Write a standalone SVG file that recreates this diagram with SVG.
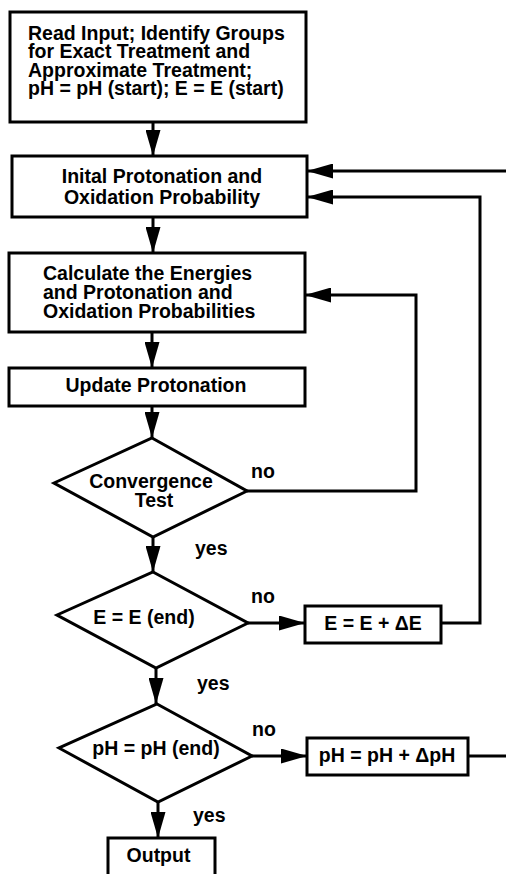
<svg xmlns="http://www.w3.org/2000/svg" width="506" height="874" viewBox="0 0 506 874">
<style>
.box{fill:#fff;stroke:#000;stroke-width:3}
.t{font-family:"Liberation Sans",Arial,sans-serif;font-weight:bold;font-size:19.5px;fill:#000}
.c{text-anchor:middle}
.ln{fill:none;stroke:#000;stroke-width:3}
</style>
<defs>
<marker id="ah" markerUnits="userSpaceOnUse" markerWidth="27" markerHeight="15" refX="26" refY="7.5" orient="auto">
<path d="M0,0 L26,7.5 L0,15 z" fill="#000"/>
</marker>
</defs>
<rect width="506" height="874" fill="#fff"/>
<g id="connectors">
<path class="ln" d="M153,122 V156" marker-end="url(#ah)"/>
<path class="ln" d="M153,217 V253" marker-end="url(#ah)"/>
<path class="ln" d="M152,332 V368" marker-end="url(#ah)"/>
<path class="ln" d="M152,406 V438" marker-end="url(#ah)"/>
<path class="ln" d="M153,537 V572" marker-end="url(#ah)"/>
<path class="ln" d="M156,668 V704" marker-end="url(#ah)"/>
<path class="ln" d="M158,802 V838" marker-end="url(#ah)"/>
<path class="ln" d="M506,171 H307" marker-end="url(#ah)"/>
<path class="ln" d="M441,623 H480 V197 H307" marker-end="url(#ah)"/>
<path class="ln" d="M247,491 H416 V295 H305" marker-end="url(#ah)"/>
<path class="ln" d="M248,623 H305" marker-end="url(#ah)"/>
<path class="ln" d="M252,756 H307" marker-end="url(#ah)"/>
<path class="ln" d="M468,756 H506"/>
<text class="t" x="251" y="478">no</text>
<text class="t" x="195" y="555">yes</text>
<text class="t" x="251" y="603">no</text>
<text class="t" x="197" y="690">yes</text>
<text class="t" x="252" y="736">no</text>
<text class="t" x="193" y="822">yes</text>
</g>
<g id="read-input">
<rect class="box" x="10" y="12" width="296" height="110"/>
<text class="t" x="28" y="40">Read Input; Identify Groups</text>
<text class="t" x="28" y="58.3">for Exact Treatment and</text>
<text class="t" x="28" y="76.7">Approximate Treatment;</text>
<text class="t" x="28" y="95">pH = pH (start); E = E (start)</text>
</g>
<g id="initial">
<rect class="box" x="12" y="156" width="295" height="61"/>
<text class="t c" x="162" y="183.3">Inital Protonation and</text>
<text class="t c" x="162" y="204">Oxidation Probability</text>
</g>
<g id="calculate">
<rect class="box" x="9" y="253" width="296" height="79"/>
<text class="t" x="43" y="280">Calculate the Energies</text>
<text class="t" x="43" y="298.5">and Protonation and</text>
<text class="t" x="43" y="317.5">Oxidation Probabilities</text>
</g>
<g id="update">
<rect class="box" x="9" y="368" width="296" height="38"/>
<text class="t c" x="156" y="392.3">Update Protonation</text>
</g>
<g id="convergence">
<polygon class="box" points="152,438 247,491 153,537 54,483"/>
<text class="t c" x="151" y="487.7">Convergence</text>
<text class="t c" x="154" y="507">Test</text>
</g>
<g id="e-end">
<polygon class="box" points="153,572 248,623 156,668 57,615"/>
<text class="t c" x="144" y="624">E = E (end)</text>
</g>
<g id="e-inc">
<rect class="box" x="305" y="606" width="136" height="37"/>
<text class="t c" x="373" y="630">E = E + ΔE</text>
</g>
<g id="ph-end">
<polygon class="box" points="157,704 252,756 158,802 59,748"/>
<text class="t c" x="156" y="755">pH = pH (end)</text>
</g>
<g id="ph-inc">
<rect class="box" x="307" y="738" width="161" height="37"/>
<text class="t c" x="387" y="762">pH = pH + ΔpH</text>
</g>
<g id="output">
<rect class="box" x="108" y="838" width="107" height="40"/>
<text class="t c" x="158.5" y="862">Output</text>
</g>
</svg>
